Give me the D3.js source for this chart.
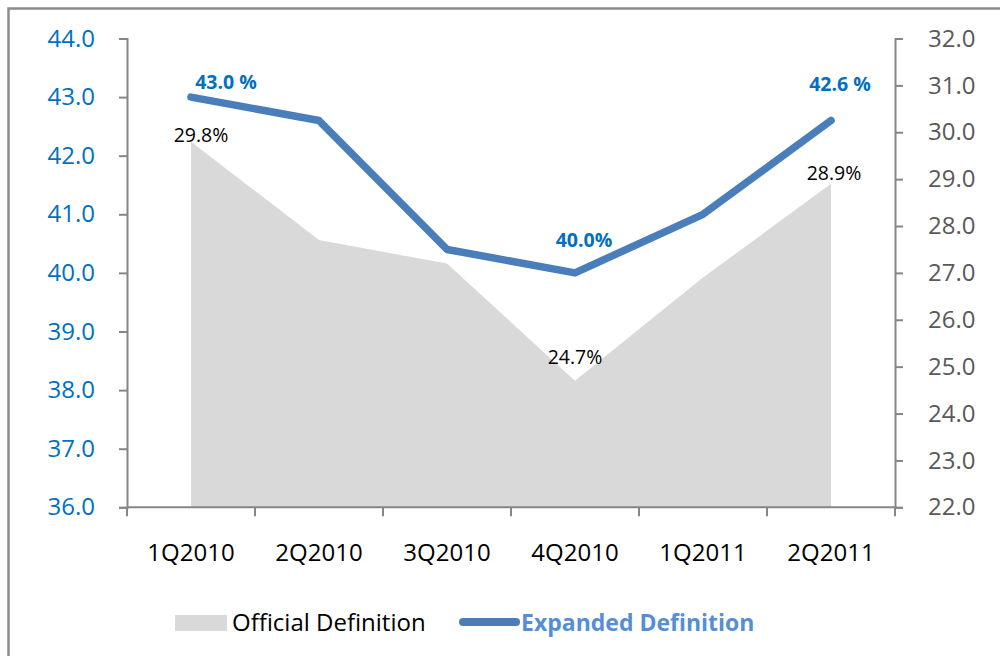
<!DOCTYPE html>
<html>
<head>
<meta charset="utf-8">
<script src="https://cdn.jsdelivr.net/npm/d3@7"></script>
<style>
    body { margin: 0; background: #fff; }
    svg { display: block; font-family: "Open Sans", "DejaVu Sans", sans-serif; }
</style>
</head>
<body>
<svg id="chart"></svg>
<script>
// chart data
const quarters = ["1Q2010", "2Q2010", "3Q2010", "4Q2010", "1Q2011", "2Q2011"];
const officialRate = [29.8, 27.7, 27.2, 24.7, 26.9, 28.9];   // right axis, grey area
const expandedRate = [43.0, 42.6, 40.4, 40.0, 41.0, 42.6];   // left axis, blue line
const leftTicks = [36, 37, 38, 39, 40, 41, 42, 43, 44];
const rightTicks = [22, 23, 24, 25, 26, 27, 28, 29, 30, 31, 32];
const officialLabels = ["29.8%", null, null, "24.7%", null, "28.9%"];
const expandedLabels = ["43.0 %", null, null, "40.0%", null, "42.6 %"];

const width = 1000;
const height = 656;
const plot = { left: 127, right: 895, top: 38.5, bottom: 507.3 };

const axisColor = "#868686";
const lineColor = "#4A7EBB";
const areaColor = "#D9D9D9";

const svg = d3.select("#chart")
    .attr("width", width)
    .attr("height", height);

// outer frame (only left and top edges are visible in the picture)
svg.append("rect")
    .attr("x", 8.5)
    .attr("y", 8.5)
    .attr("width", width + 20)
    .attr("height", height + 20)
    .attr("fill", "none")
    .attr("stroke", "#8c8c8c")
    .attr("stroke-width", 2.5);

const x = d3.scaleBand()
    .domain(quarters)
    .range([plot.left, plot.right]);

const yLeft = d3.scaleLinear()
    .domain([36, 44])
    .range([plot.bottom, plot.top]);

const yRight = d3.scaleLinear()
    .domain([22, 32])
    .range([plot.bottom, plot.top]);

const cx = d => x(d) + x.bandwidth() / 2;

// grey area for the official definition
const area = d3.area()
    .x((d, i) => cx(quarters[i]))
    .y0(plot.bottom)
    .y1(d => yRight(d));

svg.append("path")
    .datum(officialRate)
    .attr("d", area)
    .attr("fill", areaColor);

// axes
const leftAxis = svg.append("g")
    .attr("transform", `translate(${plot.left},0)`)
    .call(d3.axisLeft(yLeft).tickValues(leftTicks).tickSize(8).tickPadding(24).tickFormat(d3.format(".1f")));

const rightAxis = svg.append("g")
    .attr("transform", `translate(${plot.right},0)`)
    .call(d3.axisRight(yRight).tickValues(rightTicks).tickSize(8).tickPadding(25).tickFormat(d3.format(".1f")));

const bottomAxis = svg.append("g")
    .attr("transform", `translate(0,${plot.bottom})`)
    .call(d3.axisBottom(x).tickSize(0).tickPadding(37));

[leftAxis, rightAxis, bottomAxis].forEach(g => {
    g.attr("font-family", null).attr("font-size", null);
    g.select(".domain").attr("stroke", axisColor).attr("stroke-width", 2);
    g.selectAll(".tick line").attr("stroke", axisColor).attr("stroke-width", 2);
    g.selectAll("text").style("font-size", "24px");
});
leftAxis.selectAll("text").attr("fill", "#0070C0");
rightAxis.selectAll("text").attr("fill", "#595959");
bottomAxis.selectAll("text").attr("fill", "#000");
bottomAxis.select(".domain").attr("d", `M${plot.left},0H${plot.right}`);

// category separators on the x axis
const separators = quarters.map(q => x(q)).concat([plot.right]);
svg.append("g")
    .selectAll("line")
    .data(separators)
    .enter()
    .append("line")
    .attr("x1", d => d)
    .attr("x2", d => d)
    .attr("y1", plot.bottom)
    .attr("y2", plot.bottom + 9)
    .attr("stroke", axisColor)
    .attr("stroke-width", 2);

// blue line for the expanded definition
const line = d3.line()
    .x((d, i) => cx(quarters[i]))
    .y(d => yLeft(d));

svg.append("path")
    .datum(expandedRate)
    .attr("d", line)
    .attr("fill", "none")
    .attr("stroke", lineColor)
    .attr("stroke-width", 7.5)
    .attr("stroke-linejoin", "round")
    .attr("stroke-linecap", "round");

// data labels
const officialOffset = [[10, 0], null, null, [0, -17], null, [3, -4]];
const expandedOffset = [[35, -8], null, null, [9, -26], null, [9, -30]];

svg.append("g")
    .selectAll("text")
    .data(officialRate.map((v, i) => ({ v, i })).filter(d => officialLabels[d.i]))
    .enter()
    .append("text")
    .attr("x", d => cx(quarters[d.i]) + officialOffset[d.i][0])
    .attr("y", d => yRight(d.v) + officialOffset[d.i][1])
    .attr("text-anchor", "middle")
    .style("font-size", "19.5px")
    .attr("fill", "#000")
    .text(d => officialLabels[d.i]);

svg.append("g")
    .selectAll("text")
    .data(expandedRate.map((v, i) => ({ v, i })).filter(d => expandedLabels[d.i]))
    .enter()
    .append("text")
    .attr("x", d => cx(quarters[d.i]) + expandedOffset[d.i][0])
    .attr("y", d => yLeft(d.v) + expandedOffset[d.i][1])
    .attr("text-anchor", "middle")
    .style("font-size", "19.5px")
    .style("font-weight", "bold")
    .attr("fill", "#0070C0")
    .text(d => expandedLabels[d.i]);

// legend
const legend = svg.append("g");
legend.append("rect")
    .attr("x", 175)
    .attr("y", 615)
    .attr("width", 52)
    .attr("height", 16)
    .attr("fill", areaColor);
legend.append("text")
    .attr("x", 232)
    .attr("y", 631)
    .style("font-size", "24px")
    .attr("fill", "#000")
    .text("Official Definition");
legend.append("line")
    .attr("x1", 463)
    .attr("x2", 516)
    .attr("y1", 622)
    .attr("y2", 622)
    .attr("stroke", lineColor)
    .attr("stroke-width", 8)
    .attr("stroke-linecap", "round");
legend.append("text")
    .attr("x", 521)
    .attr("y", 631)
    .style("font-size", "23px")
    .style("font-weight", "bold")
    .attr("fill", "#558ED5")
    .text("Expanded Definition");
</script>
</body>
</html>
